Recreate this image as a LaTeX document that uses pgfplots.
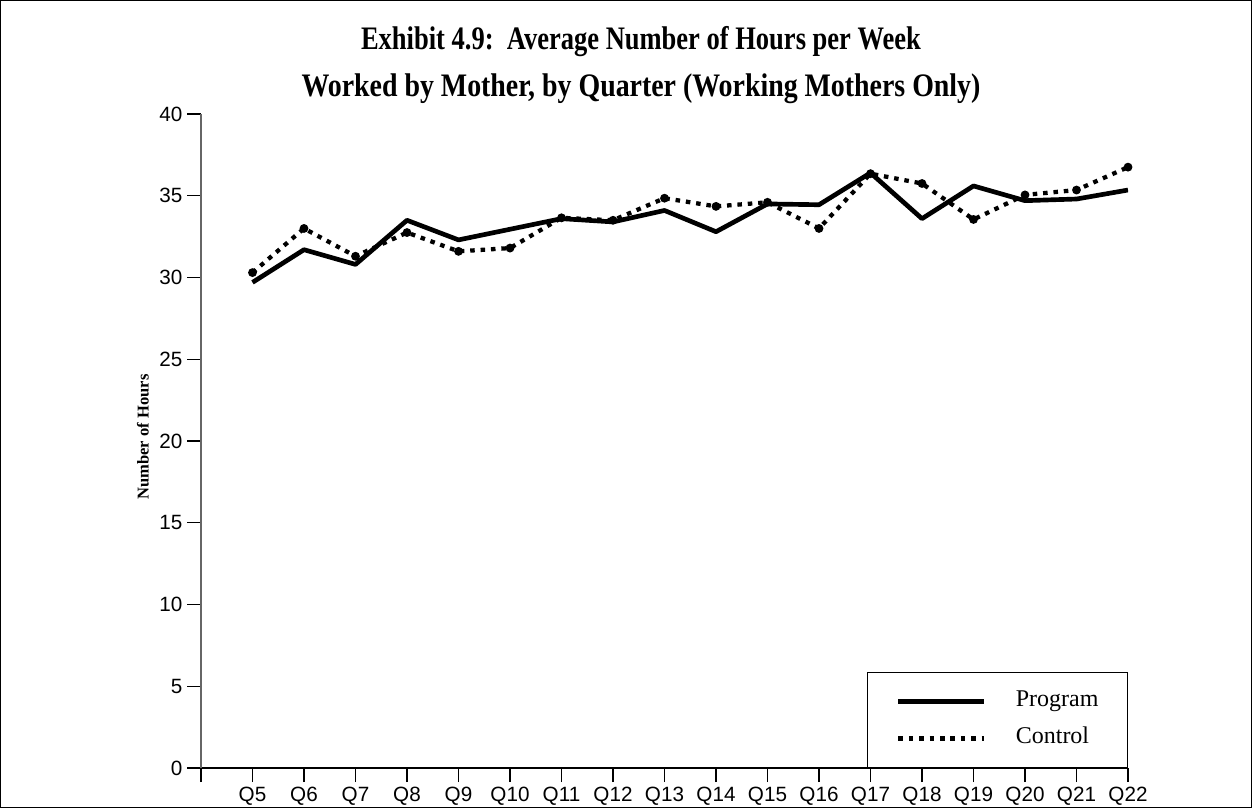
\documentclass[border=0pt]{standalone}
\usepackage{fontspec}
\setmainfont{Liberation Serif}
\newfontfamily\arial{Liberation Sans}
\usepackage{graphicx}
\usepackage{pgfplots}
\usepackage{pgfplotstable}
\pgfplotsset{compat=1.18}
\pgfplotstableread{
x prog ctrl
0 29.7 30.3
1 31.7 33.0
2 30.8 31.3
3 33.5 32.75
4 32.3 31.6
5 32.95 31.8
6 33.6 33.65
7 33.4 33.5
8 34.1 34.85
9 32.8 34.35
10 34.5 34.6
11 34.45 33.0
12 36.4 36.35
13 33.6 35.75
14 35.6 33.55
15 34.7 35.05
16 34.8 35.35
17 35.35 36.75
}\datatable
\begin{document}
\begin{tikzpicture}
\path[use as bounding box] (0pt,0pt) rectangle (939pt,606pt);
\draw[line width=1pt] (0.5pt,0.5pt) rectangle (938.5pt,605.5pt);
\node[font=\fontsize{20.5}{24}\selectfont\bfseries, anchor=base] at (480.75pt,569pt) {\scalebox{0.97}[1.2]{Exhibit 4.9:\ \ Average Number of Hours per Week}};
\node[font=\fontsize{20.5}{24}\selectfont\bfseries, anchor=base] at (480.75pt,533.5pt) {\scalebox{1.02}[1.2]{Worked by Mother, by Quarter (Working Mothers Only)}};
\begin{axis}[
  at={(150.75pt,30pt)}, anchor=south west,
  width=695.25pt, height=490.5pt, scale only axis,
  xmin=-1, xmax=17, ymin=0, ymax=40,
  axis lines*=left,
  x axis line style={black, line width=1pt},
  y axis line style={black!60, line width=1.2pt},
  xtick={-1,0,...,17},
  xticklabels={{},Q5,Q6,Q7,Q8,Q9,Q10,Q11,Q12,Q13,Q14,Q15,Q16,Q17,Q18,Q19,Q20,Q21,Q22},
  ytick={0,5,...,40},
  tick align=outside, major tick length=10.5pt,
  tick style={black, line width=0.8pt},
  every tick label/.append style={font=\arial\fontsize{15.5}{17}\selectfont},
  /pgf/number format/assume math mode=true,
  legend style={at={(1,0)}, anchor=south east, draw=black, line width=0.8pt,
    inner xsep=21.75pt, inner ysep=13.75pt, row sep=11.75pt, column sep=21.75pt,
    font=\fontsize{18}{18}\selectfont,
    nodes={inner sep=0pt, text height=11.5pt, text depth=4.5pt}},
  legend cell align=left,
  legend image code/.code={\draw[#1, mark=none] (0pt,0pt) -- (64.5pt,0pt);},
]
\addplot[black, line width=3.5pt, line join=round] table[x=x, y=prog] {\datatable};
\addlegendentry{Program}
\addplot[black, line width=3.2pt, dash pattern=on 3.4pt off 4.4pt, mark=*, mark size=1.6pt, mark options={solid}] table[x=x, y=ctrl] {\datatable};
\addlegendentry{Control}
\end{axis}
\node[rotate=90, font=\bfseries\fontsize{12.4}{14}\selectfont] at (107.25pt,278.25pt) {Number of Hours};
\end{tikzpicture}
\end{document}
